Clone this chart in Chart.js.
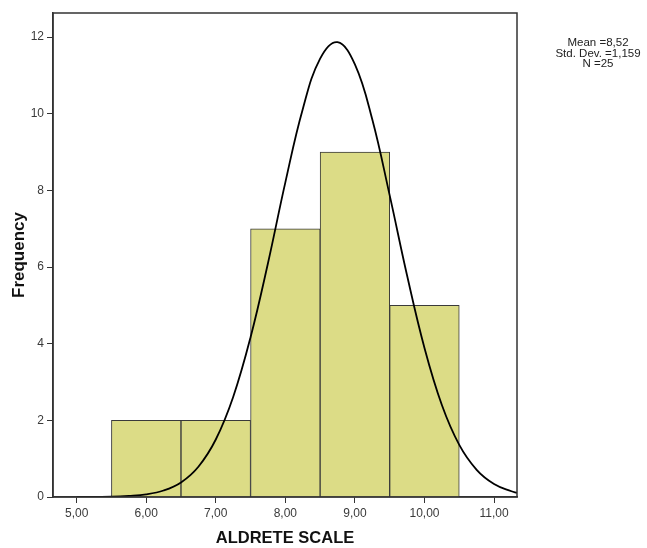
<!DOCTYPE html>
<html>
<head>
<meta charset="utf-8">
<script src="https://cdn.jsdelivr.net/npm/chart.js@4/dist/chart.umd.min.js"></script>
<style>
html,body{margin:0;padding:0;background:#fff;}
#wrap{width:647px;height:548px;position:relative;}
</style>
</head>
<body>
<div id="wrap"><canvas id="c" width="647" height="548"></canvas></div>
<script>
// Histogram bins (bin centres) and frequencies
const binCenters = [6, 7, 8, 9, 10];
const frequencies = [2, 2, 7, 9, 5];
// Normal curve
const curveX = [5.0, 5.5, 5.75, 6.0, 6.25, 6.5, 6.75, 7.0, 7.25, 7.5, 7.75, 8.0, 8.25, 8.5, 8.75, 9.0, 9.25, 9.5, 9.75, 10.0, 10.25, 10.5, 10.75, 11.0, 11.25, 11.33];
const curveY = [0.00, 0.01, 0.03, 0.07, 0.17, 0.38, 0.79, 1.50, 2.61, 4.17, 6.10, 8.21, 10.12, 11.44, 11.87, 11.29, 9.85, 7.87, 5.78, 3.89, 2.40, 1.36, 0.71, 0.34, 0.15, 0.11];
// Tick labels
const xTicks = [5, 6, 7, 8, 9, 10, 11];
const xTickLabels = ["5,00", "6,00", "7,00", "8,00", "9,00", "10,00", "11,00"];
const yTicks = [0, 2, 4, 6, 8, 10, 12];
const statsLines = ["Mean =8,52", "Std. Dev. =1,159", "N =25"];

const FONT = "'Liberation Sans', Arial, sans-serif";

const framePlugin = {
  id: 'frame',
  afterDatasetsDraw(chart) {
    const {ctx, chartArea: a} = chart;
    ctx.save();
    ctx.strokeStyle = '#333';
    ctx.lineWidth = 1.5;
    ctx.strokeRect(a.left, a.top, a.right - a.left, a.bottom - a.top);
    ctx.restore();
  },
  afterDraw(chart) {
    const ctx = chart.ctx;
    ctx.save();
    ctx.fillStyle = '#222';
    ctx.font = "11.5px " + FONT;
    ctx.textAlign = 'center';
    ctx.textBaseline = 'middle';
    statsLines.forEach((t, i) => ctx.fillText(t, 598, 43 + i * 10.6));
    ctx.restore();
  }
};

new Chart(document.getElementById('c'), {
  data: {
    datasets: [
      {
        type: 'line',
        data: curveX.map((x, i) => ({x: x, y: curveY[i]})),
        borderColor: '#000',
        borderWidth: 1.8,
        pointRadius: 0,
        tension: 0.4,
        fill: false,
        order: 0
      },
      {
        type: 'bar',
        data: binCenters.map((x, i) => ({x: x, y: frequencies[i]})),
        backgroundColor: '#dcdc86',
        borderColor: '#3a3a3a',
        borderWidth: 1,
        barPercentage: 1,
        categoryPercentage: 1,
        order: 1
      }
    ]
  },
  options: {
    responsive: false,
    animation: false,
    events: [],
    layout: {padding: {left: 0, right: 130, top: 13, bottom: 0}},
    plugins: {legend: {display: false}, tooltip: {enabled: false}},
    scales: {
      x: {
        type: 'linear',
        offset: false,
        min: 4.66,
        max: 11.33,
        afterBuildTicks(s) { s.ticks = xTicks.map(v => ({value: v})); },
        afterFit(s) { s.height = 51; },
        grid: {display: true, offset: false, drawOnChartArea: false, drawTicks: true, tickLength: 6, color: '#333', lineWidth: 1},
        border: {display: true, color: '#333', width: 1.5},
        ticks: {
          color: '#3a3a3a',
          font: {family: FONT, size: 12},
          padding: 3,
          maxRotation: 0,
          autoSkip: false,
          callback: (v) => { const i = xTicks.indexOf(v); return i >= 0 ? xTickLabels[i] : ''; }
        },
        title: {display: true, text: 'ALDRETE SCALE', color: '#111', font: {family: FONT, size: 16.5, weight: 'bold'}, padding: {top: 0, bottom: 0}}
      },
      y: {
        type: 'linear',
        min: 0,
        max: 12.63,
        afterBuildTicks(s) { s.ticks = yTicks.map(v => ({value: v})); },
        afterFit(s) { s.width = 53; },
        grid: {display: true, drawOnChartArea: false, drawTicks: true, tickLength: 6, color: '#333', lineWidth: 1},
        border: {display: true, color: '#333', width: 1.5},
        ticks: {color: '#3a3a3a', font: {family: FONT, size: 12}, padding: 3, autoSkip: false},
        title: {display: true, text: 'Frequency', color: '#111', font: {family: FONT, size: 17, weight: 'bold'}, padding: {top: 9, bottom: 0}}
      }
    }
  },
  plugins: [framePlugin]
});
</script>
</body>
</html>
